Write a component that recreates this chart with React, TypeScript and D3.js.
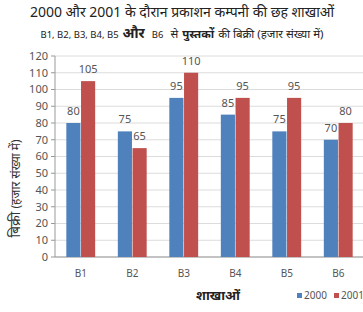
import React from "react";
import * as d3 from "d3";

const categories = ["B1", "B2", "B3", "B4", "B5", "B6"];
const series2000 = [80, 75, 95, 85, 75, 70];
const series2001 = [105, 65, 110, 95, 95, 80];
const yTicks = [0, 10, 20, 30, 40, 50, 60, 70, 80, 90, 100, 110, 120];
const seriesNames = ["2000", "2001"];
const colors = ["#4F81BD", "#C0504D"];

export default function App() {
  const W = 363, H = 312;
  const left = 55, right = 364, top = 56, bottom = 257;
  const x = d3.scaleBand<string>().domain(categories).range([left, right]).paddingInner(0.44).paddingOuter(0.22);
  const y = d3.scaleLinear().domain([0, 120]).range([bottom, top]);
  const inner = d3.scaleBand<string>().domain(seriesNames).range([0, x.bandwidth()]).paddingInner(0.04);
  const data = [series2000, series2001];
  const font = "'Noto Sans', 'DejaVu Sans', sans-serif";
  return (
    <svg width={W} height={H} style={{ position: "absolute", left: 0, top: 0, background: "#fff" }} fontFamily={font}>
      <rect width={W} height={H} fill="#fff" />
      <text x={182} y={17} textAnchor="middle" fontSize={14} fill="#222">
        2000 और 2001 के दौरान प्रकाशन कम्पनी की छह शाखाओं
      </text>
      <text x={182} y={38} textAnchor="middle" fontSize={10} fill="#222">
        <tspan fontSize={9.5}>B1, B2, B3, B4, B5</tspan>
        <tspan dx={4} fontWeight="bold" fontSize={14}>और</tspan>
        <tspan dx={7} fontSize={9.5}>B6</tspan>
        <tspan dx={7} fontSize={11.5}>से</tspan>
        <tspan dx={4} fontWeight="bold" fontSize={11.5}>पुस्तकों</tspan>
        <tspan dx={4} fontSize={11.5}>की बिक्री (हजार संख्या में)</tspan>
      </text>
      {yTicks.map((t) => (
        <g key={t}>
          <line x1={left} x2={right} y1={y(t)} y2={y(t)} stroke="#dcdcdc" strokeWidth={1} />
          <line x1={left - 4} x2={left} y1={y(t)} y2={y(t)} stroke="#999" />
          <text x={left - 7} y={y(t)} dy="0.35em" textAnchor="end" fontSize={11} fill="#555">{t}</text>
        </g>
      ))}
      <line x1={left} x2={left} y1={top} y2={bottom} stroke="#999" />
      <line x1={left} x2={right} y1={bottom} y2={bottom} stroke="#999" />
      {categories.map((c, i) => (
        <g key={c}>
          {data.map((s, k) => (
            <g key={k}>
              <rect x={(x(c) as number) + (inner(seriesNames[k]) as number)} y={y(s[i])} width={inner.bandwidth()} height={bottom - y(s[i])} fill={colors[k]} />
              <text x={(x(c) as number) + (inner(seriesNames[k]) as number) + inner.bandwidth() / 2} y={y(s[i]) - 8} textAnchor="middle" fontSize={11} fill="#555">{s[i]}</text>
            </g>
          ))}
          <text x={(x(c) as number) + x.bandwidth() / 2} y={277} textAnchor="middle" fontSize={10} fill="#555">{c}</text>
        </g>
      ))}
      <text transform={`translate(20, ${(top + bottom) / 2 + 32}) rotate(-90)`} textAnchor="middle" fontSize={12} fill="#333">
        <tspan fontSize={14}>बिक्री</tspan> (हजार संख्या में)
      </text>
      <text x={218} y={300} textAnchor="middle" fontSize={13} fontWeight="bold" fill="#222">शाखाओं</text>
      {seriesNames.map((n, k) => (
        <g key={n}>
          <rect x={297 + k * 37} y={293} width={5} height={5} fill={colors[k]} />
          <text x={304 + k * 37} y={299} fontSize={10} fill="#555">{n}</text>
        </g>
      ))}
    </svg>
  );
}
